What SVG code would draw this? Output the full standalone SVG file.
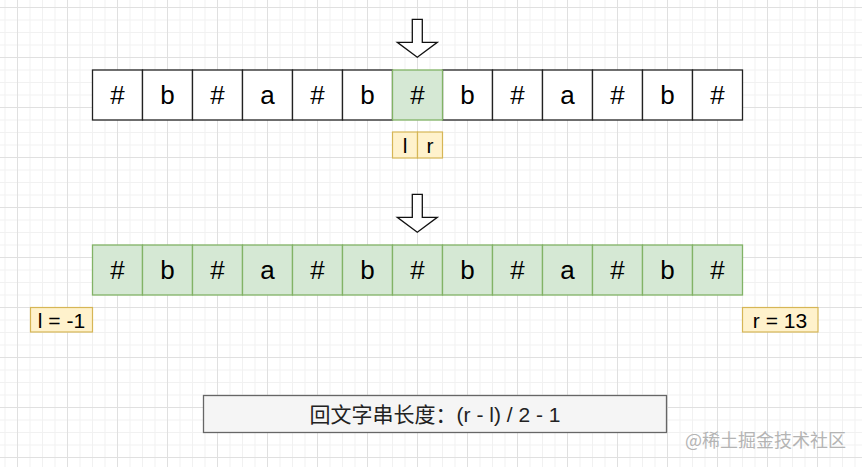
<svg xmlns="http://www.w3.org/2000/svg" width="862" height="467" viewBox="0 0 862 467">
<defs>
<pattern id="grid" x="17" y="7" width="50" height="50" patternUnits="userSpaceOnUse">
<path d="M13 0V50M25.5 0V50M38 0V50M0 13H50M0 25.5H50M0 38H50" stroke="#f1f1f1" stroke-width="1" fill="none"/>
<path d="M0.5 0V50M0 0.5H50" stroke="#e0e0e0" stroke-width="1" fill="none"/>
</pattern>
</defs>
<style>
.cell{fill:#ffffff;stroke:#222222;stroke-width:1.3}
.hl{fill:#d5e8d4;stroke:#82b366;stroke-width:1.3}
.yl{fill:#fff2cc;stroke:#d6b656;stroke-width:1.2}
.arr{fill:#ffffff;stroke:#111111;stroke-width:1.3;stroke-linejoin:miter}
.t{font-family:"Liberation Sans",Arial,"Noto Sans CJK SC",sans-serif;font-size:26px;fill:#000;text-anchor:middle}
.s{font-family:"Liberation Sans",Arial,"Noto Sans CJK SC",sans-serif;font-size:21px;fill:#000;text-anchor:middle}
.f{font-family:"Liberation Sans",Arial,"Noto Sans CJK SC",sans-serif;font-size:21px;fill:#222;text-anchor:middle}
.w{font-family:"Noto Sans CJK SC","Liberation Sans",sans-serif;font-size:18px;fill:#b4b4b4}
</style>
<rect width="862" height="467" fill="#ffffff"/>
<rect width="862" height="467" fill="url(#grid)"/>

<g id="arrow-top"><path class="arr" d="M412.3 19.3H422.3V42.3H437.3L417.3 57.3L397.3 42.3H412.3Z"/></g>

<g id="row1">
<g id="r1c0"><rect class="cell" x="92.5" y="70" width="50" height="50"/><text class="t" x="117.5" y="104">#</text></g>
<g id="r1c1"><rect class="cell" x="142.5" y="70" width="50" height="50"/><text class="t" x="167.5" y="104">b</text></g>
<g id="r1c2"><rect class="cell" x="192.5" y="70" width="50" height="50"/><text class="t" x="217.5" y="104">#</text></g>
<g id="r1c3"><rect class="cell" x="242.5" y="70" width="50" height="50"/><text class="t" x="267.5" y="104">a</text></g>
<g id="r1c4"><rect class="cell" x="292.5" y="70" width="50" height="50"/><text class="t" x="317.5" y="104">#</text></g>
<g id="r1c5"><rect class="cell" x="342.5" y="70" width="50" height="50"/><text class="t" x="367.5" y="104">b</text></g>
<g id="r1c7"><rect class="cell" x="442.5" y="70" width="50" height="50"/><text class="t" x="467.5" y="104">b</text></g>
<g id="r1c8"><rect class="cell" x="492.5" y="70" width="50" height="50"/><text class="t" x="517.5" y="104">#</text></g>
<g id="r1c9"><rect class="cell" x="542.5" y="70" width="50" height="50"/><text class="t" x="567.5" y="104">a</text></g>
<g id="r1c10"><rect class="cell" x="592.5" y="70" width="50" height="50"/><text class="t" x="617.5" y="104">#</text></g>
<g id="r1c11"><rect class="cell" x="642.5" y="70" width="50" height="50"/><text class="t" x="667.5" y="104">b</text></g>
<g id="r1c12"><rect class="cell" x="692.5" y="70" width="50" height="50"/><text class="t" x="717.5" y="104">#</text></g>
<g id="r1c6"><rect class="hl" x="392.5" y="70" width="50" height="50"/><text class="t" x="417.5" y="104">#</text></g>
</g>

<g id="label-l"><rect class="yl" x="392.5" y="132" width="25" height="26"/><text class="s" x="405" y="152.5">l</text></g>
<g id="label-r"><rect class="yl" x="417.5" y="132" width="25" height="26"/><text class="s" x="430" y="152.5">r</text></g>

<g id="arrow-mid"><path class="arr" d="M412.3 194.3H422.3V217.3H437.3L417.3 232.3L397.3 217.3H412.3Z"/></g>

<g id="row2">
<g id="r2c0"><rect class="hl" x="92.5" y="245" width="50" height="50"/><text class="t" x="117.5" y="279">#</text></g>
<g id="r2c1"><rect class="hl" x="142.5" y="245" width="50" height="50"/><text class="t" x="167.5" y="279">b</text></g>
<g id="r2c2"><rect class="hl" x="192.5" y="245" width="50" height="50"/><text class="t" x="217.5" y="279">#</text></g>
<g id="r2c3"><rect class="hl" x="242.5" y="245" width="50" height="50"/><text class="t" x="267.5" y="279">a</text></g>
<g id="r2c4"><rect class="hl" x="292.5" y="245" width="50" height="50"/><text class="t" x="317.5" y="279">#</text></g>
<g id="r2c5"><rect class="hl" x="342.5" y="245" width="50" height="50"/><text class="t" x="367.5" y="279">b</text></g>
<g id="r2c6"><rect class="hl" x="392.5" y="245" width="50" height="50"/><text class="t" x="417.5" y="279">#</text></g>
<g id="r2c7"><rect class="hl" x="442.5" y="245" width="50" height="50"/><text class="t" x="467.5" y="279">b</text></g>
<g id="r2c8"><rect class="hl" x="492.5" y="245" width="50" height="50"/><text class="t" x="517.5" y="279">#</text></g>
<g id="r2c9"><rect class="hl" x="542.5" y="245" width="50" height="50"/><text class="t" x="567.5" y="279">a</text></g>
<g id="r2c10"><rect class="hl" x="592.5" y="245" width="50" height="50"/><text class="t" x="617.5" y="279">#</text></g>
<g id="r2c11"><rect class="hl" x="642.5" y="245" width="50" height="50"/><text class="t" x="667.5" y="279">b</text></g>
<g id="r2c12"><rect class="hl" x="692.5" y="245" width="50" height="50"/><text class="t" x="717.5" y="279">#</text></g>
</g>

<g id="label-l-val"><rect class="yl" x="30.5" y="307.5" width="62" height="24.5"/><text class="s" x="61.5" y="327.5">l = -1</text></g>
<g id="label-r-val"><rect class="yl" x="742.5" y="307.5" width="75.5" height="24.5"/><text class="s" x="780" y="327.5">r = 13</text></g>

<g id="formula"><rect x="203.5" y="395.5" width="463" height="37" fill="#f5f5f5" stroke="#666666" stroke-width="1.3"/><text class="f" x="435" y="421.5">回文字串长度：(r - l) / 2 - 1</text></g>

<g id="connectors"></g>

<text class="w" x="685" y="447">@稀土掘金技术社区</text>
</svg>
